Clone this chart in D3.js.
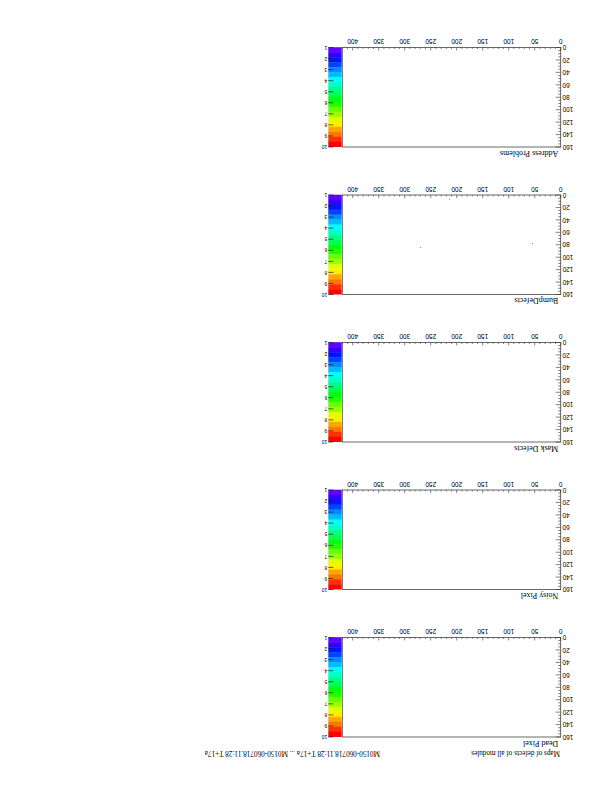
<!DOCTYPE html>
<html><head><meta charset="utf-8">
<script src="https://cdn.jsdelivr.net/npm/d3@7/dist/d3.min.js"></script>
<style>body{margin:0;background:#fff}svg{display:block}</style>
</head><body>
<script>
// ---- data ----
const panelTitles = ["Dead Pixel", "Noisy Pixel", "Mask Defects", "BumpDefects", "Address Problems"];
const xTicks = [0, 50, 100, 150, 200, 250, 300, 350, 400];
const yTicks = [0, 20, 40, 60, 80, 100, 120, 140, 160];
const zTicks = [1, 2, 3, 4, 5, 6, 7, 8, 9, 10];
const deadPixels = [];
const noisyPixels = [];
const maskDefects = [];
const bumpDefects = [[213, 7, 1], [53, 77, 1], [268, 85, 1], [419, 146, 1]];
const addressProblems = [];
const pageTitle = "Maps of defects of all modules";
const pageLabel = "M0150-060718.11:28 T+17a ... M0150-060718.11:28 T+17a";

const panelData = [deadPixels, noisyPixels, maskDefects, bumpDefects, addressProblems];

const W = 612, H = 792;
const svg = d3.select("body").append("svg").attr("width", W).attr("height", H);
// whole page is drawn upside down in the reference
const page = svg.append("g").attr("transform", `rotate(180,${W/2},${H/2})`);

const xL = 51.3, xR = 269.7, palX0 = 270.3, palX1 = 283.7;
const top0 = 55, step = 147.5, ph = 99.5;
const nLevels = 20;

// ROOT "pretty" palette (violet -> red)
function paletteColor(k) {
  let j = Math.floor((k + 0.99) * 50 / nLevels);
  if (j > 49) j = 49;
  const hue = j >= 49 ? 0 : 280 - (j + 1) * 5.6;
  return d3.hsl(hue, 1, 0.5).toString();
}

page.append("text").attr("x", 52).attr("y", 41)
  .attr("font-family", "Liberation Serif").attr("font-size", 7.2).text(pageTitle);
page.append("text").attr("x", 232).attr("y", 41)
  .attr("font-family", "Liberation Serif").attr("font-size", 7.2).text(pageLabel);

panelTitles.forEach((title, i) => {
  const top = top0 + i * step, bot = top + ph;
  const g = page.append("g");
  const x = d3.scaleLinear().domain([0, 420]).range([xL, xR]);
  const y = d3.scaleLinear().domain([0, 160]).range([bot, top]);
  const z = d3.scaleLinear().domain([1, 10]).range([bot, top]);

  // data cells
  g.selectAll("rect.cell").data(panelData[i]).join("rect").attr("class", "cell")
    .attr("x", d => Math.round(x(d[0]))).attr("y", d => Math.round(y(d[1] + 1)))
    .attr("width", 1).attr("height", 1)
    .attr("fill", d => paletteColor(Math.min(nLevels - 1, Math.floor((d[2] - 1) / 9 * nLevels))))
    .attr("fill-opacity", 0.6);

  // frame
  g.append("rect").attr("x", xL).attr("y", top).attr("width", xR - xL).attr("height", ph)
    .attr("fill", "none").attr("stroke", "#444").attr("stroke-width", 0.8);

  // x axis ticks (inside)
  for (let v = 0; v <= 420; v += 10) {
    const major = v % 50 === 0;
    g.append("line").attr("x1", x(v)).attr("x2", x(v)).attr("y1", bot).attr("y2", bot - (major ? 3 : 1.5))
      .attr("stroke", "#333").attr("stroke-width", 0.6);
  }
  g.selectAll("text.xl").data(xTicks).join("text").attr("class", "xl")
    .attr("x", d => x(d)).attr("y", bot + 8.3).attr("text-anchor", "middle")
    .attr("font-family", "Liberation Sans").attr("font-size", 6.5).text(d => d);

  // y axis ticks (inside)
  for (let v = 0; v <= 160; v += 5) {
    const major = v % 20 === 0;
    g.append("line").attr("x1", xL).attr("x2", xL + (major ? 5 : 2.5)).attr("y1", y(v)).attr("y2", y(v))
      .attr("stroke", "#333").attr("stroke-width", 0.6);
  }
  g.selectAll("text.yl").data(yTicks).join("text").attr("class", "yl")
    .attr("x", xL - 1.8).attr("y", d => y(d) + 2.3).attr("text-anchor", "end")
    .attr("font-family", "Liberation Sans").attr("font-size", 6.5).text(d => d);

  // palette
  const bandH = ph / nLevels;
  g.selectAll("rect.pal").data(d3.range(nLevels)).join("rect").attr("class", "pal")
    .attr("x", palX0).attr("width", palX1 - palX0)
    .attr("y", k => bot - (k + 1) * bandH).attr("height", bandH + 0.3)
    .attr("fill", k => paletteColor(k));
  g.selectAll("line.zt").data(zTicks).join("line").attr("class", "zt")
    .attr("x1", palX1 - 5).attr("x2", palX1).attr("y1", d => z(d)).attr("y2", d => z(d))
    .attr("stroke", "#222").attr("stroke-width", 0.7);
  g.selectAll("text.zl").data(zTicks).join("text").attr("class", "zl")
    .attr("x", palX1 + 1).attr("y", d => z(d) + 1.8)
    .attr("font-family", "Liberation Sans").attr("font-size", 5).text(d => d);

  // title
  g.append("text").attr("x", 53.7).attr("y", top - 3.5)
    .attr("font-family", "Liberation Serif").attr("font-size", 8).text(title);
});
</script>
</body></html>
